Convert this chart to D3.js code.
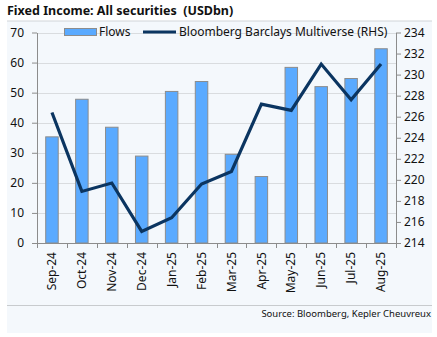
<!DOCTYPE html>
<html><head><meta charset="utf-8">
<script src="https://cdn.jsdelivr.net/npm/d3@7"></script>
<style>
body{margin:0;background:#fff;}
text{font-family:"Source Sans Pro","Noto Sans","Open Sans",sans-serif;}
</style></head>
<body><svg id="c" width="437" height="337"></svg>
<script>
const categories = ["Sep-24","Oct-24","Nov-24","Dec-24","Jan-25","Feb-25","Mar-25","Apr-25","May-25","Jun-25","Jul-25","Aug-25"];
const flows = [35.3, 47.8, 38.5, 28.9, 50.4, 53.7, 29.5, 22.1, 58.4, 52.0, 54.7, 64.6];
const multiverse = [226.4, 218.9, 219.7, 215.1, 216.4, 219.6, 220.8, 227.2, 226.6, 231.0, 227.6, 231.0];
const leftTicks = [0,10,20,30,40,50,60,70];
const rightTicks = [214,216,218,220,222,224,226,228,230,232,234];

const svg = d3.select("#c");
const L = 37, R = 396, T = 32.5, B = 243;

svg.append("rect").attr("x",7).attr("y",21).attr("width",425).attr("height",312).attr("fill","#f4f8fc");
svg.append("line").attr("x1",7).attr("x2",432).attr("y1",21).attr("y2",21).attr("stroke","#d0d4d8").attr("stroke-width",1);
svg.append("line").attr("x1",7).attr("x2",432).attr("y1",305.5).attr("y2",305.5).attr("stroke","#c8cbce").attr("stroke-width",1);

svg.append("text").attr("x",7).attr("y",15).attr("font-size",12.5).attr("font-weight","bold").attr("fill","#111")
  .style("white-space","pre")
  .text("Fixed Income: All securities  (USDbn)");
svg.append("text").attr("x",431).attr("y",317).attr("text-anchor","end").attr("font-size",9.5).attr("fill","#111")
  .text("Source: Bloomberg, Kepler Cheuvreux");

const x = d3.scaleBand().domain(categories).range([L,R]).paddingInner(0).paddingOuter(0);
const yL = d3.scaleLinear().domain([0,70]).range([B,T]);
const yR = d3.scaleLinear().domain([214,234]).range([B,T]);

// gridlines
svg.append("g").selectAll("line").data(leftTicks.slice(1)).join("line")
  .attr("x1",L).attr("x2",R).attr("y1",d=>Math.round(yL(d))+0.5).attr("y2",d=>Math.round(yL(d))+0.5)
  .attr("stroke","#d9dcdf").attr("stroke-width",1);

// bars
const bw = 12.5;
svg.append("g").selectAll("rect").data(flows).join("rect")
  .attr("x",(d,i)=>x(categories[i])+x.bandwidth()/2-bw/2)
  .attr("y",d=>yL(d)).attr("width",bw).attr("height",d=>B-yL(d))
  .attr("fill","#5aaaff").attr("stroke","#8c8c8c").attr("stroke-width",1);

// left axis
const axL = svg.append("g").attr("transform",`translate(${L},0)`)
  .call(d3.axisLeft(yL).tickValues(leftTicks).tickSize(5).tickSizeOuter(0));
axL.select(".domain").attr("stroke","#8c8c8c");
axL.selectAll(".tick line").attr("stroke","#8c8c8c");
axL.selectAll("text").attr("font-size",12).attr("fill","#111").attr("x",-13).attr("font-family",'"Source Sans Pro","Noto Sans",sans-serif');

// right axis
const axR = svg.append("g").attr("transform",`translate(${R},0)`)
  .call(d3.axisRight(yR).tickValues(rightTicks).tickSize(5).tickSizeOuter(0));
axR.select(".domain").attr("stroke","#8c8c8c");
axR.selectAll(".tick line").attr("stroke","#8c8c8c");
axR.selectAll("text").attr("font-size",12).attr("fill","#111").attr("x",8).attr("font-family",'"Source Sans Pro","Noto Sans",sans-serif');

// bottom axis
const axB = svg.append("g").attr("transform",`translate(0,${B})`)
  .call(d3.axisBottom(x).tickSize(0).tickSizeOuter(0));
axB.select(".domain").attr("stroke","#8c8c8c");
axB.selectAll("text").attr("font-size",12).attr("fill","#111")
  .attr("transform","rotate(-90)").attr("text-anchor","end").attr("x",-9).attr("y",0).attr("dy","0.35em")
  .attr("font-family",'"Source Sans Pro","Noto Sans",sans-serif');
// between-category ticks
svg.append("g").selectAll("line").data(d3.range(categories.length+1)).join("line")
  .attr("x1",i=>Math.round(L + i*x.step())+0.5).attr("x2",i=>Math.round(L + i*x.step())+0.5)
  .attr("y1",B).attr("y2",B+5).attr("stroke","#8c8c8c");

// line
const line = d3.line().x((d,i)=>x(categories[i])+x.bandwidth()/2).y(d=>yR(d));
svg.append("path").datum(multiverse).attr("d",line).attr("fill","none")
  .attr("stroke","#0b3561").attr("stroke-width",3.2).attr("stroke-linejoin","miter");

// legend
const lg = svg.append("g");
lg.append("rect").attr("x",64.5).attr("y",28.5).attr("width",32).attr("height",7).attr("fill","#5aaaff").attr("stroke","#8c8c8c");
lg.append("text").attr("x",99).attr("y",36).attr("font-size",12).attr("fill","#111").text("Flows");
lg.append("line").attr("x1",143).attr("x2",176).attr("y1",32).attr("y2",32).attr("stroke","#0b3561").attr("stroke-width",3.2);
lg.append("text").attr("x",179).attr("y",36).attr("font-size",12).attr("fill","#111").text("Bloomberg Barclays Multiverse (RHS)");
</script></body></html>
